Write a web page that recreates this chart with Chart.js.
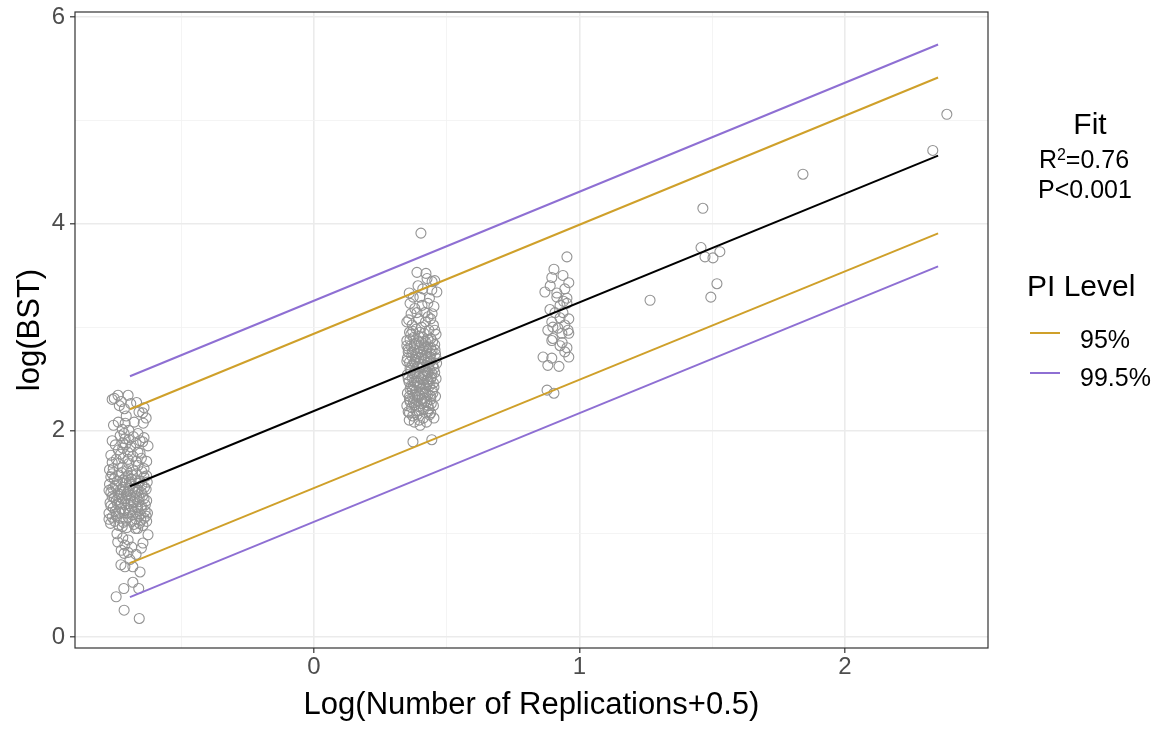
<!DOCTYPE html>
<html>
<head>
<meta charset="utf-8">
<script src="https://cdn.jsdelivr.net/npm/chart.js@4.4.1/dist/chart.umd.min.js"></script>
<style>
  body { margin: 0; background: #fff; font-family: "Liberation Sans", Arial, sans-serif; }
  #wrap { position: relative; width: 1163px; height: 729px; }
  .lg { position: absolute; color: #000; white-space: nowrap; line-height: 1; }
  .key { position: absolute; height: 2px; width: 30px; }
</style>
</head>
<body>
<div id="wrap">
  <canvas id="chart" width="1163" height="729"></canvas>
  <div class="lg" style="left:1040px;top:109px;width:100px;text-align:center;font-size:30px">Fit</div>
  <div class="lg" style="left:1024px;top:147px;width:120px;text-align:center;font-size:25px">R<sup style="font-size:16px;vertical-align:8px;line-height:0">2</sup>=0.76</div>
  <div class="lg" style="left:1025px;top:177px;width:120px;text-align:center;font-size:25px">P&lt;0.001</div>
  <div class="lg" style="left:1027px;top:271px;font-size:30px">PI Level</div>
  <div class="key" style="left:1030px;top:332px;background:#CFA02A"></div>
  <div class="lg" style="left:1080px;top:327px;font-size:25px">95%</div>
  <div class="key" style="left:1030px;top:372px;background:#8E6FD3"></div>
  <div class="lg" style="left:1080px;top:365px;font-size:25px">99.5%</div>
</div>
<script>
// tick positions (major labelled, minor only gridlines)
const xTicks = [-0.5, 0, 0.5, 1, 1.5, 2];
const yTicks = [0, 1, 2, 3, 4, 5, 6];
const xLabelled = [0, 1, 2];
const yLabelled = [0, 2, 4, 6];

// observations, grouped by number of replications (x jittered)
const rep0 = [
  [-0.760,2.30],[-0.752,2.31],[-0.738,2.34],[-0.700,2.34],[-0.726,2.28],[-0.690,2.26],[-0.668,2.27],[-0.733,2.24],
  [-0.714,2.21],[-0.640,2.22],[-0.659,2.18],[-0.645,2.17],[-0.707,2.14],[-0.632,2.12],[-0.737,2.08],[-0.711,2.07],
  [-0.677,2.08],[-0.643,2.07],[-0.755,2.05],[-0.722,2.01],[-0.697,2.00],[-0.663,1.97],[-0.715,1.97],[-0.730,1.95],
  [-0.680,1.94],[-0.640,1.93],[-0.711,1.92],[-0.697,1.91],[-0.760,1.90],[-0.655,1.90],[-0.670,1.88],[-0.720,1.88],
  [-0.645,1.89],[-0.748,1.86],[-0.710,1.86],[-0.625,1.85],[-0.690,1.84],[-0.720,1.83],[-0.737,1.81],[-0.701,1.79],
  [-0.663,1.79],[-0.655,1.78],[-0.728,1.77],[-0.765,1.76],[-0.682,1.75],[-0.718,1.73],[-0.650,1.73],[-0.700,1.72],
  [-0.745,1.72],[-0.630,1.70],[-0.670,1.70],[-0.760,1.69],[-0.737,1.68],[-0.697,1.68],[-0.663,1.66],[-0.722,1.64],
  [-0.756,1.63],[-0.640,1.63],[-0.682,1.62],[-0.770,1.62],[-0.705,1.61],[-0.648,1.60],
  [-0.725,1.59],[-0.760,1.58],[-0.668,1.58],[-0.735,1.57],[-0.685,1.57],[-0.700,1.56],[-0.630,1.56],[-0.640,1.55],
  [-0.765,1.55],[-0.710,1.54],[-0.752,1.53],[-0.688,1.53],[-0.720,1.52],[-0.672,1.52],[-0.655,1.51],[-0.740,1.51],
  [-0.628,1.50],[-0.695,1.50],[-0.710,1.49],[-0.660,1.49],[-0.770,1.48],[-0.690,1.48],[-0.742,1.47],[-0.648,1.47],
  [-0.678,1.46],[-0.748,1.46],[-0.718,1.45],[-0.638,1.45],[-0.758,1.44],[-0.695,1.44],[-0.728,1.43],[-0.632,1.43],
  [-0.682,1.43],[-0.662,1.42],[-0.772,1.42],[-0.715,1.41],[-0.700,1.41],[-0.765,1.40],[-0.674,1.40],[-0.650,1.40],
  [-0.738,1.39],[-0.706,1.38],[-0.728,1.38],[-0.645,1.37],[-0.690,1.37],[-0.735,1.36],[-0.760,1.36],[-0.668,1.36],
  [-0.752,1.35],[-0.658,1.35],[-0.722,1.34],[-0.710,1.34],[-0.640,1.34],[-0.690,1.33],[-0.630,1.32],[-0.745,1.32],
  [-0.660,1.31],[-0.680,1.31],[-0.768,1.30],[-0.680,1.30],[-0.725,1.30],[-0.740,1.29],[-0.700,1.29],[-0.712,1.28],
  [-0.635,1.28],[-0.650,1.27],[-0.765,1.27],[-0.688,1.26],[-0.756,1.25],[-0.664,1.25],[-0.727,1.24],[-0.650,1.24],
  [-0.696,1.23],[-0.712,1.23],[-0.636,1.22],[-0.748,1.22],[-0.675,1.21],[-0.735,1.21],[-0.772,1.20],[-0.716,1.20],
  [-0.627,1.20],[-0.695,1.20],[-0.745,1.19],[-0.654,1.19],[-0.684,1.18],[-0.660,1.17],[-0.745,1.17],[-0.632,1.17],
  [-0.760,1.16],[-0.700,1.16],[-0.730,1.15],[-0.640,1.15],[-0.670,1.14],[-0.772,1.14],[-0.708,1.13],[-0.652,1.13],
  [-0.750,1.12],[-0.686,1.12],[-0.630,1.12],[-0.718,1.11],[-0.657,1.10],[-0.766,1.10],[-0.678,1.09],[-0.735,1.08],
  [-0.644,1.08],[-0.722,1.07],[-0.705,1.06],[-0.672,1.05],[-0.664,1.05],
  [-0.742,1.00],[-0.625,0.99],[-0.720,0.96],[-0.700,0.94],[-0.739,0.92],[-0.644,0.91],[-0.712,0.89],[-0.686,0.87],
  [-0.650,0.86],[-0.726,0.84],[-0.700,0.82],[-0.715,0.81],[-0.670,0.80],[-0.693,0.75],[-0.727,0.70],[-0.712,0.68],
  [-0.682,0.68],[-0.655,0.63],[-0.682,0.53],[-0.660,0.47],[-0.716,0.47],[-0.745,0.39],[-0.715,0.26],[-0.658,0.18]
];
const rep1 = [
  [0.403,3.91],[0.388,3.53],[0.422,3.52],[0.426,3.47],[0.455,3.45],[0.445,3.44],[0.392,3.40],[0.410,3.37],
  [0.444,3.36],[0.463,3.34],[0.359,3.33],[0.374,3.29],[0.399,3.29],[0.435,3.28],[0.429,3.23],[0.362,3.23],
  [0.407,3.21],[0.452,3.20],[0.380,3.18],[0.445,3.13],[0.366,3.13],[0.388,3.14],[0.418,3.14],[0.430,3.10],
  [0.440,3.08],[0.357,3.07],[0.395,3.08],[0.350,3.05],[0.420,3.05],[0.370,3.02],[0.450,3.02],[0.405,3.00],
  [0.385,2.98],[0.433,2.97],[0.455,2.97],[0.372,2.96],[0.360,2.95],[0.400,2.95],[0.415,2.94],[0.460,2.93],
  [0.365,2.93],[0.395,2.91],[0.375,2.90],[0.410,2.90],[0.440,2.89],[0.362,2.88],[0.430,2.88],[0.350,2.87],
  [0.420,2.86],[0.447,2.86],[0.395,2.86],[0.405,2.85],[0.385,2.84],[0.455,2.83],[0.378,2.83],[0.365,2.82],
  [0.415,2.82],[0.350,2.82],[0.430,2.81],[0.398,2.80],[0.425,2.80],[0.440,2.80],[0.412,2.79],[0.355,2.79],
  [0.378,2.78],[0.456,2.78],[0.445,2.77],[0.355,2.76],[0.400,2.76],[0.370,2.76],[0.425,2.75],[0.392,2.74],
  [0.440,2.74],[0.458,2.74],[0.408,2.73],[0.368,2.72],[0.420,2.72],[0.438,2.71],[0.383,2.71],[0.460,2.70],
  [0.395,2.70],[0.352,2.70],[0.382,2.69],[0.415,2.69],[0.418,2.68],[0.350,2.67],[0.440,2.67],[0.400,2.66],
  [0.360,2.66],[0.378,2.66],[0.430,2.65],[0.462,2.65],[0.372,2.64],[0.408,2.64],[0.448,2.63],[0.390,2.62],
  [0.432,2.62],[0.410,2.61],[0.362,2.60],[0.395,2.60],[0.452,2.60],[0.435,2.59],[0.422,2.58],[0.365,2.58],
  [0.380,2.57],[0.455,2.56],[0.428,2.56],[0.396,2.55],[0.375,2.55],[0.418,2.55],[0.445,2.55],[0.352,2.54],
  [0.415,2.53],[0.442,2.52],[0.395,2.52],[0.370,2.51],[0.403,2.50],[0.440,2.50],[0.355,2.50],[0.460,2.50],
  [0.428,2.49],[0.412,2.49],[0.386,2.48],[0.358,2.47],[0.378,2.47],[0.432,2.47],[0.450,2.46],[0.390,2.46],
  [0.412,2.45],[0.375,2.44],[0.425,2.44],[0.400,2.44],[0.435,2.43],[0.365,2.43],[0.395,2.42],[0.452,2.42],
  [0.420,2.41],[0.362,2.40],[0.405,2.40],[0.446,2.39],[0.370,2.39],[0.383,2.38],[0.407,2.37],[0.420,2.37],
  [0.352,2.36],[0.448,2.36],[0.430,2.35],[0.398,2.34],[0.380,2.34],[0.458,2.33],[0.360,2.33],[0.390,2.33],
  [0.440,2.33],[0.372,2.32],[0.416,2.31],[0.440,2.30],[0.360,2.30],[0.405,2.30],[0.388,2.29],[0.362,2.28],
  [0.418,2.28],[0.425,2.27],[0.375,2.27],[0.405,2.26],[0.442,2.26],[0.380,2.25],[0.450,2.24],[0.430,2.24],
  [0.350,2.24],[0.395,2.23],[0.368,2.22],[0.432,2.21],[0.412,2.20],[0.385,2.19],[0.395,2.19],[0.355,2.18],
  [0.429,2.18],[0.440,2.17],[0.360,2.17],[0.388,2.15],[0.435,2.15],[0.372,2.14],[0.412,2.12],[0.452,2.12],
  [0.359,2.10],[0.397,2.10],[0.378,2.08],[0.424,2.08],[0.400,2.05],[0.444,1.91],[0.373,1.89]
];
const rep2 = [
  [0.953,3.68],[0.904,3.56],[0.938,3.50],[0.896,3.48],[0.960,3.43],[0.890,3.40],[0.945,3.37],[0.870,3.34],
  [0.915,3.33],[0.915,3.29],[0.953,3.28],[0.940,3.25],[0.953,3.23],[0.927,3.21],[0.889,3.17],[0.908,3.14],
  [0.938,3.14],[0.927,3.09],[0.960,3.08],[0.896,3.05],[0.945,3.02],[0.900,3.00],[0.919,2.99],[0.881,2.97],
  [0.957,2.97],[0.934,2.94],[0.960,2.94],[0.900,2.89],[0.896,2.87],[0.935,2.85],[0.927,2.82],[0.953,2.80],
  [0.945,2.76],[0.863,2.71],[0.960,2.71],[0.896,2.70],[0.881,2.63],[0.923,2.62],[0.878,2.39],[0.904,2.36]
];
const repMany = [
  [1.266,3.26],[1.465,4.15],[1.458,3.77],[1.473,3.68],[1.503,3.67],[1.529,3.73],[1.518,3.42],[1.495,3.29],
  [1.842,4.48],[2.331,4.71],[2.384,5.06]
];

// fitted line and prediction interval bounds, at the x range of the data
const lineX = [-0.693, 2.351];
const fitY = [1.46, 4.66];
const pi95Lower = [0.716, 3.907];
const pi95Upper = [2.205, 5.416];
const pi995Lower = [0.387, 3.588];
const pi995Upper = [2.524, 5.735];

const GOLD = '#CFA02A';
const PURPLE = '#8E6FD3';
const POINT = '#939393';

const toPts = arr => arr.map(p => ({ x: p[0], y: p[1] }));
const toLine = ys => lineX.map((x, i) => ({ x, y: ys[i] }));

function lineSet(ys, color) {
  return { type: 'line', data: toLine(ys), borderColor: color, borderWidth: 2,
           pointRadius: 0, fill: false, tension: 0 };
}
function pointSet(arr) {
  return { type: 'scatter', data: toPts(arr), borderColor: POINT, backgroundColor: 'rgba(0,0,0,0)',
           pointRadius: 5, pointBorderWidth: 1.1, pointHoverRadius: 5 };
}

// full panel border like theme_bw
const panelBorder = {
  id: 'panelBorder',
  afterDraw(chart) {
    const { ctx, chartArea: a } = chart;
    ctx.save();
    ctx.strokeStyle = '#333333';
    ctx.lineWidth = 1.2;
    ctx.strokeRect(a.left, a.top, a.right - a.left, a.bottom - a.top);
    ctx.restore();
  }
};

const isMajor = (v, list) => list.includes(v);

new Chart(document.getElementById('chart'), {
  data: {
    datasets: [
      lineSet(fitY, '#000000'),
      lineSet(pi95Upper, GOLD),
      lineSet(pi95Lower, GOLD),
      lineSet(pi995Upper, PURPLE),
      lineSet(pi995Lower, PURPLE),
      pointSet(rep0),
      pointSet(rep1),
      pointSet(rep2),
      pointSet(repMany)
    ]
  },
  options: {
    responsive: false,
    animation: false,
    devicePixelRatio: 1,
    layout: { padding: { left: 0, right: 175, top: 12, bottom: 0 } },
    plugins: { legend: { display: false }, tooltip: { enabled: false } },
    scales: {
      x: {
        type: 'linear',
        min: -0.900,
        max: 2.539,
        afterBuildTicks: s => { s.ticks = xTicks.map(v => ({ value: v })); },
        afterFit: s => { s.height = 81; s.paddingLeft = 0; s.paddingRight = 0; },
        ticks: {
          autoSkip: false, maxRotation: 0, padding: 0,
          color: '#4D4D4D', font: { family: 'Liberation Sans', size: 24 },
          callback: v => isMajor(v, xLabelled) ? String(v) : ''
        },
        grid: {
          color: c => isMajor(c.tick.value, xLabelled) ? '#EBEBEB' : '#F3F3F3',
          lineWidth: c => isMajor(c.tick.value, xLabelled) ? 1.6 : 0.9,
          tickColor: c => isMajor(c.tick.value, xLabelled) ? '#333333' : 'rgba(0,0,0,0)',
          tickWidth: 1.2,
          tickLength: 5
        },
        border: { display: false },
        title: {
          display: true, text: 'Log(Number of Replications+0.5)', color: '#000',
          font: { family: 'Liberation Sans', size: 31 }, padding: { top: 0, bottom: 5 }
        }
      },
      y: {
        type: 'linear',
        min: -0.106,
        max: 6.05,
        afterBuildTicks: s => { s.ticks = yTicks.map(v => ({ value: v })); },
        afterFit: s => { s.width = 75; s.paddingTop = 0; s.paddingBottom = 0; },
        ticks: {
          autoSkip: false, padding: 5,
          color: '#4D4D4D', font: { family: 'Liberation Sans', size: 24 },
          callback: v => isMajor(v, yLabelled) ? String(v) : ''
        },
        grid: {
          color: c => isMajor(c.tick.value, yLabelled) ? '#EBEBEB' : '#F3F3F3',
          lineWidth: c => isMajor(c.tick.value, yLabelled) ? 1.6 : 0.9,
          tickColor: c => isMajor(c.tick.value, yLabelled) ? '#333333' : 'rgba(0,0,0,0)',
          tickWidth: 1.2,
          tickLength: 5
        },
        border: { display: false },
        title: {
          display: true, text: 'log(BST)', color: '#000',
          font: { family: 'Liberation Sans', size: 31 }, padding: { top: 12, bottom: 0 }
        }
      }
    }
  },
  plugins: [panelBorder]
});
</script>
</body>
</html>
